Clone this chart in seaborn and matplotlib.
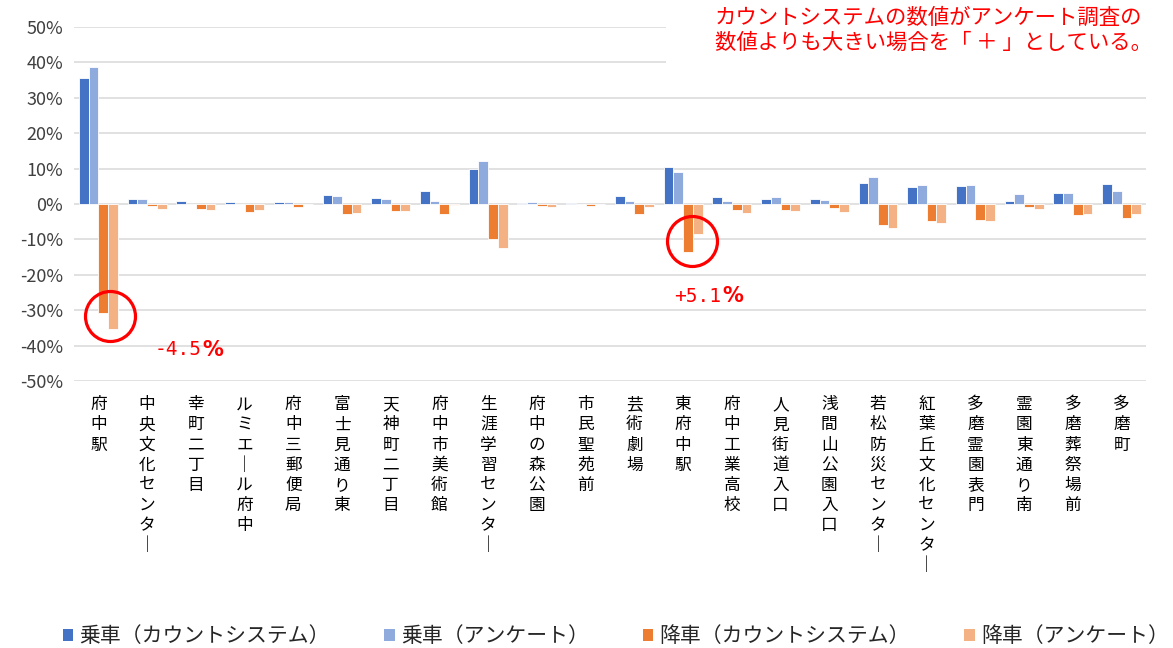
import numpy as np
import pandas as pd
import matplotlib
matplotlib.use("Agg")
import matplotlib.pyplot as plt
from matplotlib.patches import Patch, Rectangle
import seaborn as sns

# 停留所
stations = ["府中駅", "中央文化センター", "幸町二丁目", "ルミエール府中", "府中三郵便局",
            "富士見通り東", "天神町二丁目", "府中市美術館", "生涯学習センター", "府中の森公園",
            "市民聖苑前", "芸術劇場", "東府中駅", "府中工業高校", "人見街道入口",
            "浅間山公園入口", "若松防災センター", "紅葉丘文化センター", "多磨霊園表門",
            "霊園東通り南", "多磨葬祭場前", "多磨町"]

# 値 (%)
board_count = [35.7, 1.4, 0.8, 0.6, 0.6, 2.5, 1.7, 3.7, 9.9, 0.3, 0.2,
               2.3, 10.4, 2.1, 1.5, 1.4, 5.9, 4.7, 5.1, 0.8, 3.1, 5.7]
board_survey = [38.6, 1.5, 0.1, 0.1, 0.7, 2.3, 1.3, 0.9, 12.1, 0.7, 0.1,
                0.9, 9.1, 0.9, 2.0, 1.2, 7.5, 5.3, 5.3, 2.7, 3.0, 3.7]
alight_count = [-30.9, -0.5, -1.3, -2.3, -0.8, -2.7, -2.0, -2.9, -9.9, -0.5, -0.5,
                -2.8, -13.7, -1.8, -1.6, -1.2, -6.0, -4.8, -4.5, -0.8, -3.2, -4.0]
alight_survey = [-35.3, -1.3, -1.6, -1.6, -0.1, -2.5, -1.9, -0.2, -12.5, -0.9, 0.0,
                 -0.9, -8.6, -2.5, -2.0, -2.4, -6.7, -5.5, -4.8, -1.5, -2.8, -2.8]

series_names = ["乗車（カウントシステム）", "乗車（アンケート）",
                "降車（カウントシステム）", "降車（アンケート）"]
colors = ["#4472C4", "#8FAADC", "#ED7D31", "#F4B183"]

df = pd.concat([
    pd.DataFrame({"station": stations, "series": name, "value": vals})
    for name, vals in zip(series_names, [board_count, board_survey, alight_count, alight_survey])
])

sns.set_style("white")
plt.rcParams["font.family"] = ["Noto Sans CJK JP", "DejaVu Sans"]

fig = plt.figure(figsize=(11.73, 6.48), dpi=100)
ax = fig.add_axes([74 / 1173, 1 - 381 / 648, 1072 / 1173, 354 / 648])

sns.barplot(data=df, x="station", y="value", hue="series", order=stations,
            hue_order=series_names, palette=colors, saturation=1, width=0.8,
            edgecolor="white", linewidth=0.6, legend=False, ax=ax)

ax.set_ylim(-50, 50)
ax.set_xlim(-0.5, len(stations) - 0.5)
yticks = np.arange(-50, 51, 10)
ax.set_yticks(yticks)
ax.set_yticklabels([f"{v}%" for v in yticks], fontsize=13, color="#404040")
ax.yaxis.grid(True, color="#D9D9D9", linewidth=1.1)
ax.set_axisbelow(True)
for s in ax.spines.values():
    s.set_visible(False)
ax.tick_params(axis="both", length=0)
ax.tick_params(axis="x", pad=11)
ax.tick_params(axis="y", pad=8)

# 縦書きラベル
vlabels = ["\n".join(s.replace("ー", "｜")) for s in stations]
ax.set_xticks(range(len(stations)))
ax.set_xticklabels(vlabels, fontsize=12, linespacing=1.24, va="top", color="black")
ax.set_xlabel("")
ax.set_ylabel("")

# 注記ボックス
ax.add_patch(Rectangle((0.552, 0.88), 0.46, 0.2, transform=ax.transAxes,
                       facecolor="white", edgecolor="none", clip_on=False, zorder=4))
ax.text(0.598, 0.99, "カウントシステムの数値がアンケート調査の\n数値よりも大きい場合を「 ＋ 」としている。",
        transform=ax.transAxes, color="#FF0000", fontsize=15.4, linespacing=1.15,
        ha="left", va="center", zorder=5)

# 赤丸と差分
for cx, cy in [(0.24, -31.6), (12.18, -10.5)]:
    ax.plot(cx, cy, marker="o", markersize=36, fillstyle="none",
            markeredgecolor="#FF0000", markeredgewidth=2.3, zorder=6)
ax.text(1.16, -41.2, "-4.5", color="#FF0000", fontsize=14,
        family="DejaVu Sans Mono", va="center", ha="left")
ax.text(2.14, -41.2, "%", color="#FF0000", fontsize=15, fontweight="bold",
        family="DejaVu Sans", va="center", ha="left")
ax.text(11.82, -26.0, "+5.1", color="#FF0000", fontsize=14,
        family="DejaVu Sans Mono", va="center", ha="left")
ax.text(12.80, -26.0, "%", color="#FF0000", fontsize=15, fontweight="bold",
        family="DejaVu Sans", va="center", ha="left")

handles = [Patch(facecolor=c, edgecolor="none") for c in colors]
fig.legend(handles, series_names, loc="center", bbox_to_anchor=(0.525, 1 - 636 / 648),
           ncol=4, frameon=False, fontsize=15, handlelength=0.5, handleheight=0.5,
           handletextpad=0.3, columnspacing=2.6)

fig.savefig("out.png", dpi=100)
